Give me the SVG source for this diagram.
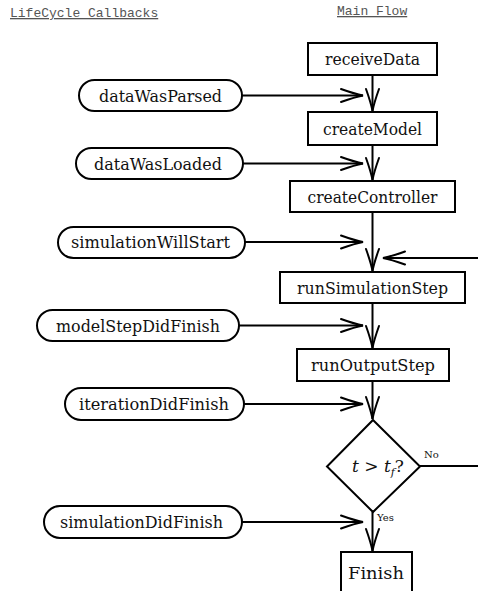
<svg xmlns="http://www.w3.org/2000/svg" width="478" height="591" viewBox="0 0 478 591">
<style>
  .box { fill: #fff; stroke: #000; stroke-width: 2; }
  .pill { fill: #fff; stroke: #000; stroke-width: 2; }
  .lbl { font-family: 'DejaVu Serif', 'Liberation Serif', serif; font-size: 16px; fill: #111; text-anchor: middle; }
  .small { font-family: 'DejaVu Serif', 'Liberation Serif', serif; font-size: 10px; fill: #111; }
  .math { font-family: 'DejaVu Serif', 'Liberation Serif', serif; font-size: 17px; fill: #111; }
  .title { font-family: 'Liberation Mono', 'DejaVu Sans Mono', monospace; font-size: 13px; fill: #555; text-decoration: underline; }
  .conn { fill: none; stroke: #000; stroke-width: 2; }
  .arr { marker-end: url(#head); }
</style>
<defs>
  <marker id="head" markerUnits="userSpaceOnUse" viewBox="-24 -8 26 16" markerWidth="26" markerHeight="16" refX="0" refY="0" orient="auto" overflow="visible">
    <path d="M -22,-6.5 Q -8,-1.5 0,0 Q -8,1.5 -22,6.5" fill="none" stroke="#000" stroke-width="2" stroke-linecap="round"/>
  </marker>
</defs>

<text class="title" x="10" y="17">LifeCycle Callbacks</text>
<text class="title" x="337" y="15">Main Flow</text>

<g id="connectors">
  <path class="conn arr" d="M372.5,75 V111"/>
  <path class="conn arr" d="M372.5,145 V180"/>
  <path class="conn arr" d="M372.5,212 V271"/>
  <path class="conn arr" d="M372.5,303 V348"/>
  <path class="conn arr" d="M372.5,381 V419"/>
  <path class="conn arr" d="M372.5,512 V551"/>
  <path class="conn arr" d="M478,258 H383"/>
  <path class="conn" d="M420,466 H478"/>
  <path class="conn arr" d="M242,95.5 H363"/>
  <path class="conn arr" d="M243,163.5 H363"/>
  <path class="conn arr" d="M245,242 H363"/>
  <path class="conn arr" d="M239,325.5 H363"/>
  <path class="conn arr" d="M244,404 H363"/>
  <path class="conn arr" d="M242,522 H363"/>
  <text class="small" x="424" y="458">No</text>
  <text class="small" x="377" y="521">Yes</text>
</g>

<g id="receiveData">
  <rect class="box" x="308" y="43" width="129" height="32"/>
  <text class="lbl" x="372.5" y="65" textLength="95" lengthAdjust="spacingAndGlyphs">receiveData</text>
</g>
<g id="createModel">
  <rect class="box" x="308" y="112" width="129" height="33"/>
  <text class="lbl" x="372.5" y="135" textLength="99" lengthAdjust="spacingAndGlyphs">createModel</text>
</g>
<g id="createController">
  <rect class="box" x="290" y="181" width="165" height="31"/>
  <text class="lbl" x="372.5" y="202.5" textLength="130" lengthAdjust="spacingAndGlyphs">createController</text>
</g>
<g id="runSimulationStep">
  <rect class="box" x="280" y="272" width="185" height="31"/>
  <text class="lbl" x="372.5" y="293.5" textLength="151" lengthAdjust="spacingAndGlyphs">runSimulationStep</text>
</g>
<g id="runOutputStep">
  <rect class="box" x="297" y="349" width="152" height="32"/>
  <text class="lbl" x="373" y="371" textLength="124" lengthAdjust="spacingAndGlyphs">runOutputStep</text>
</g>
<g id="decision">
  <path class="box" d="M373,420 L420,466.5 L373,512 L327,466.5 Z"/>
  <text class="math" x="352" y="472"><tspan font-style="italic">t</tspan> &gt; <tspan font-style="italic">t</tspan><tspan font-style="italic" font-size="11" dy="4">f</tspan><tspan dy="-4">?</tspan></text>
</g>
<g id="Finish">
  <rect class="box" x="341" y="552" width="71" height="50"/>
  <text class="lbl" x="376" y="579" textLength="56" lengthAdjust="spacingAndGlyphs">Finish</text>
</g>

<g id="dataWasParsed">
  <rect class="pill" x="79" y="80" width="163" height="31" rx="15.5"/>
  <text class="lbl" x="160.5" y="101.5" textLength="123" lengthAdjust="spacingAndGlyphs">dataWasParsed</text>
</g>
<g id="dataWasLoaded">
  <rect class="pill" x="76" y="148" width="167" height="31" rx="15.5"/>
  <text class="lbl" x="158" y="169.5" textLength="128" lengthAdjust="spacingAndGlyphs">dataWasLoaded</text>
</g>
<g id="simulationWillStart">
  <rect class="pill" x="58" y="227" width="187" height="31" rx="15.5"/>
  <text class="lbl" x="150.5" y="248" textLength="159" lengthAdjust="spacingAndGlyphs">simulationWillStart</text>
</g>
<g id="modelStepDidFinish">
  <rect class="pill" x="37" y="310" width="202" height="31" rx="15.5"/>
  <text class="lbl" x="138" y="331.5" textLength="164" lengthAdjust="spacingAndGlyphs">modelStepDidFinish</text>
</g>
<g id="iterationDidFinish">
  <rect class="pill" x="65" y="388" width="179" height="32" rx="16"/>
  <text class="lbl" x="154" y="410" textLength="150" lengthAdjust="spacingAndGlyphs">iterationDidFinish</text>
</g>
<g id="simulationDidFinish">
  <rect class="pill" x="44" y="506" width="198" height="32" rx="16"/>
  <text class="lbl" x="141.5" y="528" textLength="163" lengthAdjust="spacingAndGlyphs">simulationDidFinish</text>
</g>
</svg>
